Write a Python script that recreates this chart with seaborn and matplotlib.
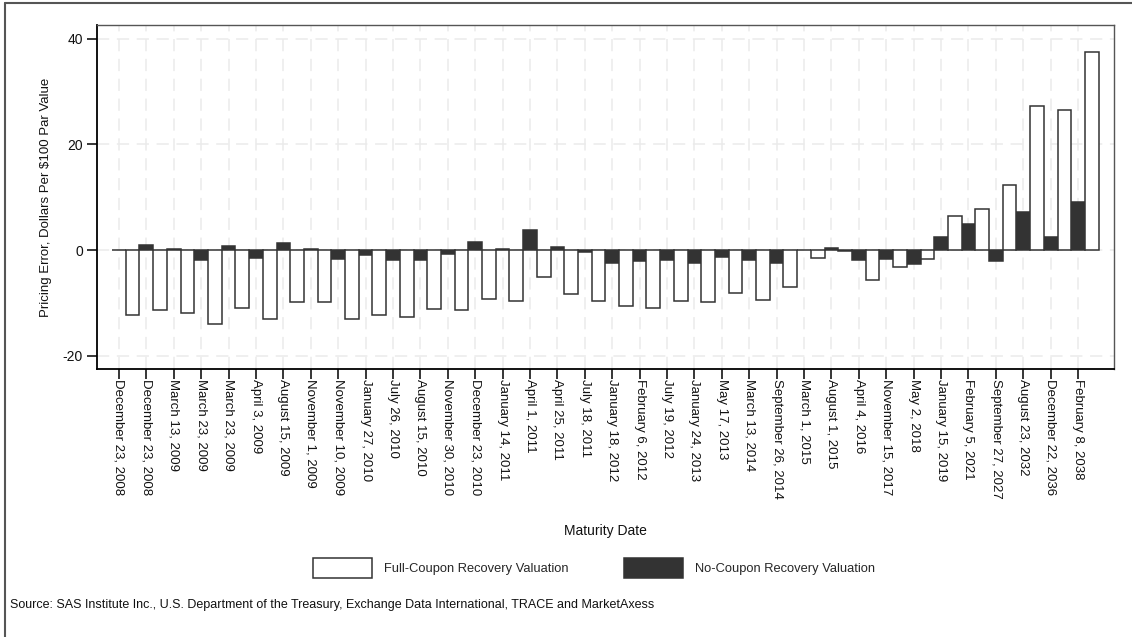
import numpy as np
import pandas as pd
import matplotlib
matplotlib.use("Agg")
import matplotlib.pyplot as plt
import seaborn as sns
from matplotlib.patches import Patch
from matplotlib.lines import Line2D

maturity_dates = [
    "December 23, 2008", "December 23, 2008", "March 13, 2009", "March 23, 2009",
    "March 23, 2009", "April 3, 2009", "August 15, 2009", "November 1, 2009",
    "November 10, 2009", "January 27, 2010", "July 26, 2010", "August 15, 2010",
    "November 30, 2010", "December 23, 2010", "January 14, 2011", "April 1, 2011",
    "April 25, 2011", "July 18, 2011", "January 18, 2012", "February 6, 2012",
    "July 19, 2012", "January 24, 2013", "May 17, 2013", "March 13, 2014",
    "September 26, 2014", "March 1, 2015", "August 1, 2015", "April 4, 2016",
    "November 15, 2017", "May 2, 2018", "January 15, 2019", "February 5, 2021",
    "September 27, 2027", "August 23, 2032", "December 22, 2036", "February 8, 2038",
]

full_coupon = [
    -12.3, -11.4, -11.9, -14.0, -10.9, -13.1, -9.8, -9.8, -13.0, -12.3,
    -12.6, -11.2, -11.3, -9.2, -9.7, -5.0, -8.4, -9.7, -10.5, -10.9,
    -9.7, -9.9, -8.2, -9.5, -6.9, -1.45, -0.15, -5.7, -3.2, -1.6,
    6.5, 7.8, 12.4, 27.2, 26.5, 37.4,
]

no_coupon = [
    0.0, 0.9, 0.2, -1.9, 0.75, -1.4, 1.3, 0.3, -1.6, -1.0,
    -1.8, -1.8, -0.8, 1.5, 0.25, 3.85, 0.55, -0.45, -2.5, -2.0,
    -1.8, -2.4, -1.3, -1.8, -2.4, 0.0, 0.4, -1.8, -1.6, -2.65,
    2.4, 5.0, -2.0, 7.3, 2.4, 9.1,
]

series_names = ["Full-Coupon Recovery Valuation", "No-Coupon Recovery Valuation"]
y_ticks = [-20, 0, 20, 40]

n = len(maturity_dates)
df = pd.DataFrame({
    "idx": list(range(n)) * 2,
    "value": full_coupon + no_coupon,
    "series": [series_names[0]] * n + [series_names[1]] * n,
})

sns.set_theme(style="white")
plt.rcParams["font.family"] = ["Liberation Sans", "DejaVu Sans"]

fig = plt.figure(figsize=(11.32, 6.37), dpi=100)
ax = fig.add_axes([97 / 1132, 1 - 369 / 637, (1114 - 97) / 1132, (369 - 25) / 637])

palette = {series_names[0]: "white", series_names[1]: "#333333"}
sns.barplot(data=df, x="idx", y="value", hue="series",
            hue_order=[series_names[1], series_names[0]],
            palette=palette, width=1.0, edgecolor="#333333", linewidth=1.1,
            saturation=1, ax=ax, legend=False, zorder=3)

tick_pos = np.arange(n) - 0.25
ax.set_xticks(tick_pos)
ax.set_xticklabels(maturity_dates, rotation=270, fontsize=9.5, va="top", ha="center",
                   rotation_mode="default")
ax.set_xlim(-1.05, n + 0.06)
ax.set_ylim(-22.5, 42.6)
ax.set_yticks(y_ticks)
ax.set_yticklabels([str(v) for v in y_ticks], fontsize=10)

ax.grid(True, which="major", axis="both", color="#ebebeb", linestyle=(0, (8, 5)),
        linewidth=1.1, zorder=0)
ax.set_axisbelow(True)

for side in ["left", "bottom"]:
    ax.spines[side].set_color("black")
    ax.spines[side].set_linewidth(1.3)
for side in ["top", "right"]:
    ax.spines[side].set_color("#555555")
    ax.spines[side].set_linewidth(1.0)
    ax.spines[side].set_visible(True)

ax.tick_params(axis="both", direction="out", length=7, width=1.1, color="black",
               bottom=True, left=True, labelcolor="#111111")
ax.tick_params(axis="x", pad=0)
ax.tick_params(axis="y", pad=3)

ax.set_xlabel("Maturity Date", fontsize=10, labelpad=18, color="#111111")
ax.set_ylabel("Pricing Error, Dollars Per $100 Par Value", fontsize=9.5,
              labelpad=8, color="#111111")

handles = [Patch(facecolor="white", edgecolor="#333333", linewidth=1.1),
           Patch(facecolor="#333333", edgecolor="#333333", linewidth=1.1)]
fig.legend(handles, series_names, loc="center", bbox_to_anchor=(594 / 1132, 1 - 568 / 637),
           ncol=2, frameon=False, fontsize=9.3, handlelength=4.6, handleheight=1.9,
           handletextpad=0.9, columnspacing=4.3)

fig.text(10 / 1132, 1 - 605 / 637,
         "Source: SAS Institute Inc., U.S. Department of the Treasury, Exchange Data International, TRACE and MarketAxess",
         fontsize=9, va="center", ha="left", color="#111111")

# outer frame (top and left edges)
fig.add_artist(Line2D([5 / 1132, 5 / 1132], [0, 1 - 3 / 637], transform=fig.transFigure,
                      color="#555555", linewidth=1.5))
fig.add_artist(Line2D([5 / 1132, 1], [1 - 3 / 637, 1 - 3 / 637], transform=fig.transFigure,
                      color="#555555", linewidth=1.5))

fig.savefig("out.png", dpi=100, facecolor="white")
